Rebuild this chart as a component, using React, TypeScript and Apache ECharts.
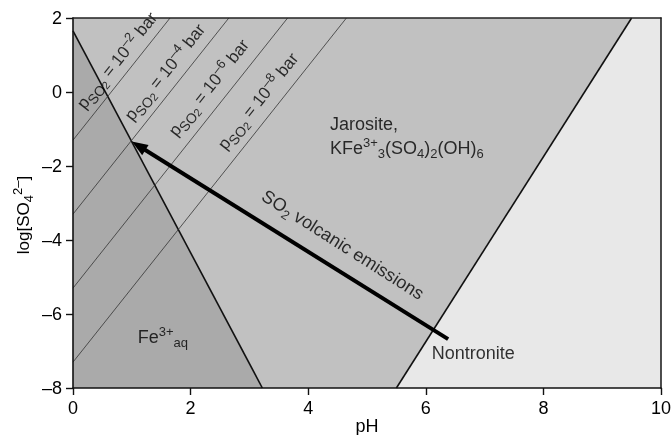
import React, { useEffect, useRef } from "react";
import * as echarts from "echarts";

// ---- data (pH, log[SO4^2-]) ----
const X_MIN = 0;
const X_MAX = 10;
const Y_MIN = -8;
const Y_MAX = 2;
const X_INTERVAL = 2;
const Y_INTERVAL = 2;

const feBoundary = [
  [0, 1.65],
  [3.22, -8],
];
const nontroniteBoundary = [
  [5.5, -8],
  [9.5, 2],
];

const pso2Exponents = ["–2", "–4", "–6", "–8"];
const pso2Lines = [
  [[0, -1.3], [1.65, 2]],
  [[0, -3.3], [2.65, 2]],
  [[0, -5.3], [3.65, 2]],
  [[0, -7.3], [4.65, 2]],
];
const pso2LabelPos = [
  [0.75, 0.85],
  [1.565, 0.535],
  [2.31, 0.115],
  [3.15, -0.25],
];

const arrowTail = [6.38, -6.68];
const arrowTip = [1.0, -1.34];

const regionFe = [[0, feBoundary[0][1]], feBoundary[1], [0, Y_MIN]];
const regionJarosite = [
  [0, Y_MAX],
  feBoundary[0],
  feBoundary[1],
  nontroniteBoundary[0],
  nontroniteBoundary[1],
];
const regionNontronite = [
  nontroniteBoundary[0],
  [X_MAX, Y_MIN],
  [X_MAX, Y_MAX],
  nontroniteBoundary[1],
];

const FONT = "'Liberation Sans', Arial, Helvetica, sans-serif";
const TXT = "#000";

const rich = {
  sub: { fontSize: 13, lineHeight: 12, verticalAlign: "bottom", fontFamily: FONT, color: TXT },
  sup: { fontSize: 13, lineHeight: 12, verticalAlign: "top", fontFamily: FONT, color: TXT },
  ss: { fontSize: 14, lineHeight: 15, verticalAlign: "bottom", fontFamily: FONT, color: TXT },
  sss: { fontSize: 11, lineHeight: 7, verticalAlign: "bottom", fontFamily: FONT, color: TXT },
};

export default function App() {
  const ref = useRef<HTMLDivElement>(null);

  useEffect(() => {
    if (!ref.current) return;
    const chart = echarts.init(ref.current, null, { renderer: "svg" });

    const regions = [
      { points: regionJarosite, color: "#c1c1c1" },
      { points: regionFe, color: "#aaaaaa" },
      { points: regionNontronite, color: "#e8e8e8" },
    ];

    const boundaries = [
      { pts: feBoundary, w: 1.6, c: "#111" },
      { pts: nontroniteBoundary, w: 1.6, c: "#111" },
      ...pso2Lines.map((p) => ({ pts: p, w: 0.8, c: "#333" })),
    ];

    const baseLabel = {
      show: true,
      fontSize: 18,
      lineHeight: 24,
      fontFamily: FONT,
      color: TXT,
      rich,
    };

    const labelItems: any[] = [];
    pso2LabelPos.forEach((p, i) => {
      const txt = `p{ss|SO}{sss|2} = 10{sup|${pso2Exponents[i]}} bar`;
      labelItems.push({
        value: p,
        label: {
          ...baseLabel,
          fontSize: 17,
          formatter: () => txt,
          position: "inside",
          rotate: 51.5,
          align: "center",
        },
      });
    });
    const simpleLabels = [
      { value: [4.37, -1.18], txt: "Jarosite,\nKFe{sup|3+}{sub|3}(SO{sub|4}){sub|2}(OH){sub|6}" },
      { value: [1.1, -6.61], txt: "Fe{sup|3+}{sub|aq}" },
      { value: [6.1, -7.05], txt: "Nontronite" },
    ];
    simpleLabels.forEach((s) => {
      labelItems.push({
        value: s.value,
        label: { ...baseLabel, formatter: () => s.txt, position: "right", distance: 0, align: "left" },
      });
    });
    labelItems.push({
      value: [4.59, -4.13],
      label: {
        ...baseLabel,
        formatter: () => "SO{sub|2} volcanic emissions",
        position: "inside",
        rotate: -32.5,
        align: "center",
      },
    });

    chart.setOption({
      animation: false,
      textStyle: { fontFamily: FONT, color: TXT },
      grid: { left: 73, right: 11, top: 18, bottom: 47, outerBoundsMode: "none", containLabel: false },
      xAxis: [
        {
          type: "value",
          min: X_MIN,
          max: X_MAX,
          interval: X_INTERVAL,
          z: 10,
          name: "pH",
          nameLocation: "middle",
          nameGap: 30,
          nameMoveOverlap: false,
          nameTextStyle: { fontSize: 18, lineHeight: 16, color: TXT, fontFamily: FONT },
          axisLine: { show: true, onZero: false, lineStyle: { color: "#111", width: 1.6 } },
          axisTick: { show: true, length: 7, inside: false, lineStyle: { color: "#111", width: 1.4 } },
          axisLabel: { fontSize: 18, color: TXT, margin: 11, fontFamily: FONT },
          splitLine: { show: false },
        },
        {
          type: "value",
          min: X_MIN,
          max: X_MAX,
          position: "top",
          z: 10,
          axisLine: { show: true, onZero: false, lineStyle: { color: "#222", width: 1.6 } },
          axisTick: { show: false },
          axisLabel: { show: false },
          splitLine: { show: false },
        },
      ],
      yAxis: [
        {
          type: "value",
          min: Y_MIN,
          max: Y_MAX,
          interval: Y_INTERVAL,
          z: 10,
          name: "log[SO{sub|4}{sup|2–}]",
          nameLocation: "middle",
          nameGap: 38,
          nameMoveOverlap: false,
          nameTextStyle: {
            fontSize: 17,
            lineHeight: 24,
            color: TXT,
            fontFamily: FONT,
            rich,
            padding: [0, 24, 0, 0],
          },
          axisLine: { show: true, onZero: false, lineStyle: { color: "#111", width: 1.6 } },
          axisTick: { show: true, length: 7, inside: false, lineStyle: { color: "#111", width: 1.4 } },
          axisLabel: {
            fontSize: 18,
            color: TXT,
            margin: 11,
            fontFamily: FONT,
            formatter: (v: number) => String(v).replace("-", "–"),
          },
          splitLine: { show: false },
        },
        {
          type: "value",
          min: Y_MIN,
          max: Y_MAX,
          position: "right",
          z: 10,
          axisLine: { show: true, onZero: false, lineStyle: { color: "#222", width: 1.6 } },
          axisTick: { show: false },
          axisLabel: { show: false },
          splitLine: { show: false },
        },
      ],
      series: [
        {
          type: "custom",
          coordinateSystem: "cartesian2d",
          silent: true,
          z: 1,
          data: regions.map(() => [0, 0]),
          renderItem: (params: any, api: any) => {
            const r = regions[params.dataIndex];
            return {
              type: "polygon",
              shape: { points: r.points.map((p) => api.coord(p)) },
              style: { fill: r.color, stroke: "none" },
            };
          },
        },
        {
          type: "custom",
          coordinateSystem: "cartesian2d",
          silent: true,
          z: 2,
          data: boundaries.map(() => [0, 0]),
          renderItem: (params: any, api: any) => {
            const b = boundaries[params.dataIndex];
            const a = api.coord(b.pts[0]);
            const c = api.coord(b.pts[1]);
            return {
              type: "line",
              shape: { x1: a[0], y1: a[1], x2: c[0], y2: c[1] },
              style: { stroke: b.c, lineWidth: b.w },
            };
          },
        },
        {
          type: "custom",
          coordinateSystem: "cartesian2d",
          silent: true,
          z: 3,
          data: [[0, 0]],
          renderItem: (params: any, api: any) => {
            const t = api.coord(arrowTail);
            const h = api.coord(arrowTip);
            const dx = h[0] - t[0];
            const dy = h[1] - t[1];
            const len = Math.sqrt(dx * dx + dy * dy);
            const ux = dx / len;
            const uy = dy / len;
            const headLen = 16;
            const headW = 12;
            const bx = h[0] - ux * headLen;
            const by = h[1] - uy * headLen;
            const nx = -uy;
            const ny = ux;
            return {
              type: "group",
              children: [
                {
                  type: "line",
                  shape: { x1: t[0], y1: t[1], x2: bx + ux * 2, y2: by + uy * 2 },
                  style: { stroke: "#000", lineWidth: 4 },
                },
                {
                  type: "polygon",
                  shape: {
                    points: [
                      h,
                      [bx + (nx * headW) / 2, by + (ny * headW) / 2],
                      [bx - (nx * headW) / 2, by - (ny * headW) / 2],
                    ],
                  },
                  style: { fill: "#000" },
                },
              ],
            };
          },
        },
        {
          type: "scatter",
          silent: true,
          z: 4,
          symbolSize: 0,
          itemStyle: { color: "transparent" },
          data: labelItems,
        },
      ],
    });

    return () => chart.dispose();
  }, []);

  return (
    <div
      ref={ref}
      style={{ position: "fixed", left: 0, top: 0, width: 672, height: 435 }}
    />
  );
}
